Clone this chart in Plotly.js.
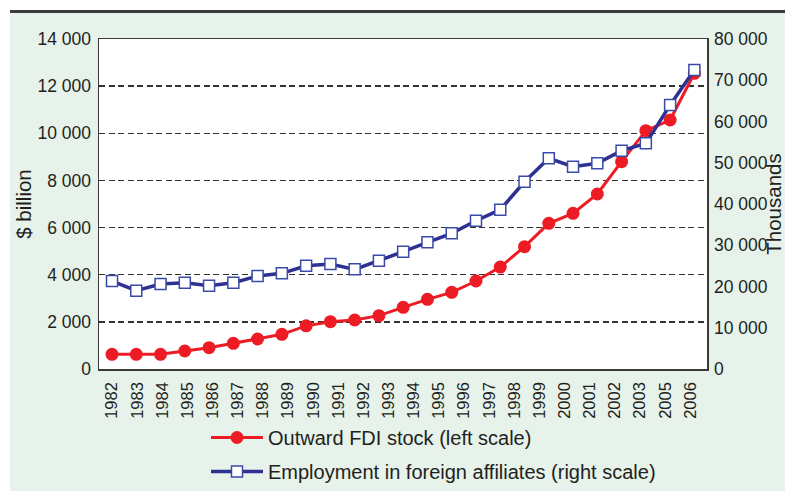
<!DOCTYPE html>
<html>
<head>
<meta charset="utf-8">
<script src="https://cdn.plot.ly/plotly-3.0.1.min.js"></script>
<style>html,body{margin:0;padding:0;background:#fff;}#chart{width:785px;height:491px;}</style>
</head>
<body>
<div id="chart"></div>
<script>
// ---- data ----
const years = [1982,1983,1984,1985,1986,1987,1988,1989,1990,1991,1992,1993,1994,1995,1996,1997,1998,1999,2000,2001,2002,2003,2004,2005,2006];
const fdiStock = [623,623,623,763,905,1089,1273,1471,1830,2008,2079,2263,2616,2955,3253,3733,4325,5190,6180,6604,7424,8795,10110,10563,12545];
const employment = [21330,18990,20600,20920,20200,20920,22540,23190,25040,25450,24160,26250,28440,30710,32890,35950,38620,45400,51070,49040,49860,52920,54700,64000,72480];
const tickLabels = ['1982','1983','1984','1985','1986','1987','1988','1989','1990','1991','1992','1993','1994','1995','1996','1997','1998','1999','2000','2001','2002','2003','2005','2006'];
const seriesNames = ['Outward FDI stock (left scale)', 'Employment in foreign affiliates (right scale)'];
const leftTitle = '$ billion';
const rightTitle = 'Thousands';

// tick labels spread evenly across the category band (as in the source chart)
const span = (years[years.length-1] - years[0]) * 0.993;
const tickVals = tickLabels.map((t, i) => years[0] + i * span / (tickLabels.length - 1));

const FONT = 'Liberation Sans, Arial, sans-serif';
const TXT = '#231f20';

const traces = [
  {
    x: years, y: fdiStock, name: seriesNames[0], type: 'scatter', mode: 'lines+markers',
    yaxis: 'y', legendgroup: 'a',
    line: {color: '#ed1c24', width: 3},
    marker: {symbol: 'circle', size: 13, color: '#ed1c24'}
  },
  {
    x: years, y: employment, name: seriesNames[1], type: 'scatter', mode: 'lines+markers',
    yaxis: 'y2', legendgroup: 'b',
    line: {color: '#2e3192', width: 3.5},
    marker: {symbol: 'square', size: 11, color: '#ffffff', line: {color: '#3a4aa8', width: 1.5}}
  }
];

// plot area in px: x 99..707, y 39..369
const L = 99, R = 707, T = 39, B = 369;
const pw = R - L, ph = B - T;
const px = v => (v - L) / pw;
const py = v => (B - v) / ph;

const layout = {
  width: 785, height: 491,
  margin: {l: L, r: 785 - R, t: T, b: 491 - B, pad: 0, autoexpand: false},
  paper_bgcolor: '#e6f2ea',
  plot_bgcolor: '#ffffff',
  separators: '. ',
  font: {family: FONT, size: 17, color: TXT},
  showlegend: true,
  legend: {
    x: px(206), y: py(418), xanchor: 'left', yanchor: 'top',
    bgcolor: 'rgba(0,0,0,0)', font: {family: FONT, size: 20, color: TXT},
    traceorder: 'grouped', tracegroupgap: 5, itemwidth: 52
  },
  xaxis: {
    range: [years[0] - 0.536, years[years.length-1] + 0.52],
    tickmode: 'array', tickvals: tickVals, ticktext: tickLabels,
    tickangle: -90, tickfont: {family: FONT, size: 16.5, color: TXT},
    showgrid: false, zeroline: false,
    showline: true, mirror: true, linecolor: '#3a3a3a', linewidth: 1.5,
    ticks: '', ticklabelstandoff: 5
  },
  yaxis: {
    range: [0, 14000], dtick: 2000, tick0: 0, tickformat: ',d',
    tickfont: {family: FONT, size: 17.5, color: TXT},
    showgrid: true, gridcolor: '#333333', gridwidth: 1.5, griddash: '6px,3.5px',
    zeroline: false, showline: true, linecolor: '#3a3a3a', linewidth: 1.5,
    ticks: '', ticklabelstandoff: 3,
    title: {text: leftTitle, font: {family: FONT, size: 20.5, color: TXT}, standoff: 0}
  },
  yaxis2: {
    overlaying: 'y', side: 'right',
    range: [0, 80000], dtick: 10000, tick0: 0, tickformat: ',d',
    tickfont: {family: FONT, size: 17.5, color: TXT},
    showgrid: false, zeroline: false, showline: true, linecolor: '#3a3a3a', linewidth: 1.5,
    ticks: '', ticklabelstandoff: 2,
    title: {text: rightTitle, font: {family: FONT, size: 20.5, color: TXT}, standoff: 2}
  },
  shapes: [
    {type: 'rect', xref: 'paper', yref: 'paper', layer: 'below',
     x0: -0.3, x1: 1.3, y0: py(12), y1: 1.3, fillcolor: '#ffffff', line: {width: 0}},
    {type: 'rect', xref: 'paper', yref: 'paper', layer: 'below',
     x0: -0.3, x1: px(10), y0: -0.5, y1: 1.3, fillcolor: '#ffffff', line: {width: 0}},
    {type: 'line', xref: 'paper', yref: 'paper', layer: 'below',
     x0: px(10), x1: 1.3, y0: py(11.5), y1: py(11.5), line: {color: '#3c3c3c', width: 3}}
  ]
};

Plotly.newPlot('chart', traces, layout, {displayModeBar: false, staticPlot: true});
</script>
</body>
</html>
